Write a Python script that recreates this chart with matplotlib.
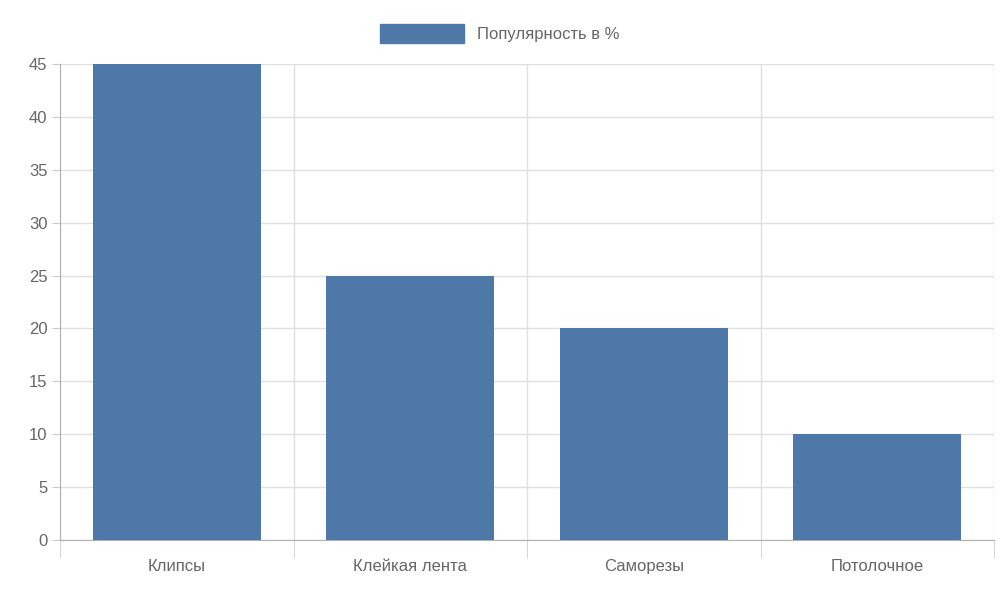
import matplotlib.pyplot as plt
import matplotlib.patches as mpatches

categories = ["Клипсы", "Клейкая лента", "Саморезы", "Потолочное"]
values = [45, 25, 20, 10]
legend_label = "Популярность в %"

plt.rcParams['font.family'] = ['Liberation Sans', 'DejaVu Sans']
gray = "#666666"
bar_color = "#4e78a7"

fig = plt.figure(figsize=(10, 6), dpi=100)
ax = fig.add_axes([0.06, 0.1, 0.934, 0.7933])

x = range(len(categories))
ax.bar(x, values, width=0.72, color=bar_color, zorder=3)

ax.set_xlim(-0.5, len(categories) - 0.5)
ax.set_ylim(0, 45)
ax.set_yticks(range(0, 46, 5))
ax.set_xticks(list(x))
ax.set_xticklabels(categories)
ax.set_xticks([i - 0.5 for i in range(len(categories) + 1)], minor=True)

ax.tick_params(axis='x', which='major', length=0, labelsize=12, labelcolor=gray, pad=14)
ax.tick_params(axis='x', which='minor', length=13, color="#cccccc")
ax.tick_params(axis='y', length=6, color="#cccccc", labelsize=12, labelcolor=gray, pad=3)

ax.grid(axis='y', color="#e0e0e0", linewidth=1, zorder=0)
ax.grid(axis='x', which='minor', color="#e0e0e0", linewidth=1, zorder=0)
ax.grid(axis='x', which='major', visible=False)

for s in ['top', 'right']:
    ax.spines[s].set_visible(False)
for s in ['left', 'bottom']:
    ax.spines[s].set_color("#b0b0b0")

handle = mpatches.Patch(color=bar_color, label=legend_label)
fig.legend(handles=[handle], loc='upper center', bbox_to_anchor=(0.5, 0.985),
           frameon=False, fontsize=12, labelcolor=gray,
           handlelength=5, handleheight=1.4, handletextpad=0.8)

fig.savefig("out.png", dpi=100)
